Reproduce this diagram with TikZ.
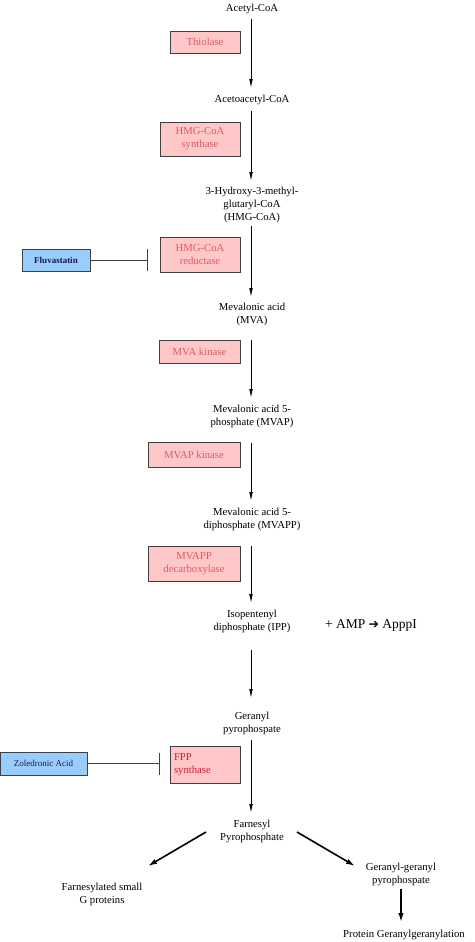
\documentclass[tikz,border=0pt]{standalone}
\usepackage{fontspec}
\setmainfont{Liberation Serif}
\newfontfamily\symfont{DejaVu Sans}
\usetikzlibrary{arrows.meta}
\definecolor{enzfill}{HTML}{FFC8C8}
\definecolor{enztext}{HTML}{E05868}
\definecolor{fpptext}{HTML}{E01830}
\definecolor{drugfill}{HTML}{99CCFF}
\definecolor{drugtext}{HTML}{1A1A4A}
\definecolor{boxline}{HTML}{404040}
\tikzset{
  x=1pt,y=-1pt,
  met/.style={align=center,font=\fontsize{10.7}{13}\selectfont,inner sep=0pt},
  enz/.style={draw=boxline,fill=enzfill,text=enztext,align=center,
    font=\fontsize{10.7}{13}\selectfont,inner sep=0pt,line width=0.7pt},
  drug/.style={draw=boxline,fill=drugfill,text=drugtext,align=center,
    font=\fontsize{9}{11}\selectfont,inner sep=0pt,line width=0.7pt},
  flow/.style={-{Latex[length=9pt,width=3.6pt]},line width=0.8pt},
  bigflow/.style={-{Latex[length=9pt,width=5.5pt]},line width=1.6pt},
  inhib/.style={-{Bar[width=22pt]},line width=0.7pt,draw=boxline},
}
\begin{document}
\begin{tikzpicture}
\useasboundingbox (0,0) rectangle (474,942);
% metabolites
\node[met] (acetyl) at (252,9) {Acetyl-CoA};
\node[met] (acetoacetyl) at (252,100) {Acetoacetyl-CoA};
\node[met] (hmgcoa) at (252,205) {3-Hydroxy-3-methyl-\\glutaryl-CoA\\(HMG-CoA)};
\node[met] (mva) at (252,314) {Mevalonic acid\\(MVA)};
\node[met] (mvap) at (252,416.5) {Mevalonic acid 5-\\phosphate (MVAP)};
\node[met] (mvapp) at (252,519) {Mevalonic acid 5-\\diphosphate (MVAPP)};
\node[met] (ipp) at (252,621.5) {Isopentenyl\\diphosphate (IPP)};
\node[met,font=\fontsize{13.5}{15}\selectfont] (amp) at (371,625) {+ AMP {\symfont\fontsize{12.5}{13}\selectfont ➔} ApppI};
\node[met] (geranyl) at (252,723.5) {Geranyl\\pyrophospate};
\node[met] (farnesyl) at (252,831.5) {Farnesyl\\Pyrophosphate};
\node[met] (fsmall) at (102,894.5) {Farnesylated small\\G proteins};
\node[met] (ggpp) at (401,874.5) {Geranyl-geranyl\\pyrophospate};
\node[met] (pgg) at (404,935) {Protein Geranylgeranylation};
% enzymes
\node[enz,minimum width=70pt,minimum height=22pt] (thiolase) at (205,42) {Thiolase};
\node[enz,minimum width=80pt,minimum height=34pt] (hmgs) at (200,139) {HMG-CoA\\synthase};
\node[enz,minimum width=80pt,minimum height=35pt] (hmgr) at (200,254.5) {HMG-CoA\\reductase};
\node[enz,minimum width=81pt,minimum height=23pt] (mvak) at (199.5,351.5) {MVA kinase};
\node[enz,minimum width=92pt,minimum height=25pt] (mvapk) at (194,454.5) {MVAP kinase};
\node[enz,minimum width=92pt,minimum height=35pt] (mvappd) at (194,563.5) {MVAPP\\decarboxylase};
\node[enz,minimum width=70pt,minimum height=37pt,text=fpptext,align=left,text width=62pt] (fpps) at (205,765) {FPP\\synthase};
% drugs
\node[drug,minimum width=68pt,minimum height=22pt,font=\bfseries\fontsize{9}{11}\selectfont] (fluva) at (56,260) {Fluvastatin};
\node[drug,minimum width=87pt,minimum height=23pt] (zole) at (43.5,763.5) {Zoledronic Acid};
% inhibition targets
\coordinate (fluvaT) at (148,260);
\coordinate (zoleT) at (160,763.5);
% pathway arrows
\draw[flow] (251,19) -- (251,88);
\draw[flow] (251,111) -- (251,181);
\draw[flow] (251,226) -- (251,297);
\draw[flow] (251,340) -- (251,398);
\draw[flow] (251,443) -- (251,501);
\draw[flow] (251,546) -- (251,603);
\draw[flow] (251,650) -- (251,698);
\draw[flow] (251,740) -- (251,813);
\draw[bigflow] (206,832) -- (148,866);
\draw[bigflow] (297,832) -- (355,866);
\draw[bigflow] (401,889) -- (401,922);
% inhibitions
\draw[inhib] (fluva.east) -- (fluvaT);
\draw[inhib] (zole.east) -- (zoleT);
\end{tikzpicture}
\end{document}
